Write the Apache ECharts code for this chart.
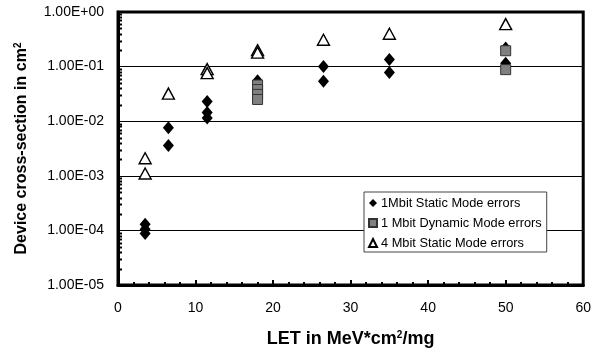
<!DOCTYPE html>
<html>
<head>
<meta charset="utf-8">
<script src="https://cdn.jsdelivr.net/npm/echarts@6/dist/echarts.min.js"></script>
<style>
  html, body { margin: 0; padding: 0; background: #fff; }
  #chart { width: 594px; height: 354px; }
</style>
</head>
<body>
<div id="chart"></div>
<script>
// LET (MeV*cm2/mg) and device cross-section (cm2) measurements
const static1M = [
  [3.5, 1.3e-4], [3.5, 1.05e-4], [3.5, 8.8e-5],
  [6.5, 7.6e-3], [6.5, 3.6e-3],
  [11.5, 2.3e-2], [11.5, 1.45e-2], [11.5, 1.15e-2],
  [18, 5.5e-2],
  [26.5, 1.0e-1], [26.5, 5.4e-2],
  [35, 1.35e-1], [35, 7.8e-2],
  [50, 2.2e-1], [50, 1.15e-1]
];
const dynamic1M = [
  [18, 4.6e-2], [18, 3.8e-2], [18, 3.1e-2], [18, 2.5e-2],
  [50, 1.95e-1], [50, 8.8e-2]
];
const static4M = [
  [3.5, 2.1e-3], [3.5, 1.1e-3],
  [6.5, 3.2e-2],
  [11.5, 9.0e-2], [11.5, 7.6e-2],
  [18, 2.0e-1], [18, 1.8e-1],
  [26.5, 3.1e-1],
  [35, 4.0e-1],
  [50, 6.0e-1]
];
const seriesNames = ['1Mbit Static Mode errors', '1 Mbit Dynamic Mode errors', '4 Mbit Static Mode errors'];
const xTicks = { min: 0, max: 60, interval: 10 };
const yRange = { min: 1e-5, max: 1 };

function sciLabel(v) {
  const e = Math.round(Math.log10(v));
  return '1.00E' + (e < 0 ? '-' : '+') + String(Math.abs(e)).padStart(2, '0');
}

const font = 'Liberation Sans, Arial, sans-serif';
const supStyle = { fontSize: 10, fontWeight: 'bold', verticalAlign: 'top', padding: [0, 0, 7, 0] };
const chart = echarts.init(document.getElementById('chart'), null, { renderer: 'canvas' });

chart.setOption({
  animation: false,
  backgroundColor: '#fff',
  textStyle: { fontFamily: font },
  grid: {
    left: 118, right: 9, top: 12, bottom: 69,
    show: true, borderColor: '#000', borderWidth: 3, backgroundColor: 'transparent'
  },
  xAxis: {
    type: 'value',
    min: xTicks.min, max: xTicks.max, interval: xTicks.interval,
    name: 'LET in MeV*cm{sup|2}/mg',
    nameLocation: 'middle', nameGap: 45,
    nameTextStyle: {
      fontFamily: font, fontSize: 18, fontWeight: 'bold', color: '#000',
      rich: { sup: supStyle }
    },
    axisLine: { show: true, lineStyle: { color: '#000', width: 3 } },
    axisTick: { show: true, inside: true, length: 5, lineStyle: { color: '#000', width: 2 } },
    minorTick: { show: true, splitNumber: 5, length: 3, lineStyle: { color: '#000', width: 2 } },
    axisLabel: { fontFamily: font, fontSize: 14, color: '#000', margin: 16 },
    splitLine: { show: false }
  },
  yAxis: {
    type: 'log', logBase: 10,
    min: yRange.min, max: yRange.max,
    name: 'Device cross-section in cm{sup|2}',
    nameLocation: 'middle', nameGap: 88, nameRotate: 90,
    nameTextStyle: {
      fontFamily: font, fontSize: 16, fontWeight: 'bold', color: '#000',
      rich: { sup: supStyle }
    },
    axisLine: { show: true, lineStyle: { color: '#000', width: 3 } },
    axisTick: { show: false },
    axisLabel: { fontFamily: font, fontSize: 14, color: '#000', margin: 14, formatter: sciLabel },
    splitLine: { show: true, lineStyle: { color: '#000', width: 1 } }
  },
  legend: {
    orient: 'vertical',
    left: 364, top: 192,
    backgroundColor: '#fff',
    borderColor: '#444', borderWidth: 1,
    padding: [3, 5, 1, 4],
    itemGap: 4, itemWidth: 8, itemHeight: 8,
    textStyle: { fontFamily: font, fontSize: 12.8, color: '#000', lineHeight: 16, padding: [0, 0, 0, -1] },
    data: seriesNames
  },
  series: [
    {
      name: seriesNames[0], type: 'scatter', data: static1M,
      symbol: 'diamond', symbolSize: [11, 13],
      itemStyle: { color: '#000', opacity: 1 }, z: 3
    },
    {
      name: seriesNames[1], type: 'scatter', data: dynamic1M,
      symbol: 'rect', symbolSize: [10, 10],
      itemStyle: { color: '#808080', borderColor: '#333', borderWidth: 1, opacity: 1 }, z: 4
    },
    {
      name: seriesNames[2], type: 'scatter', data: static4M,
      symbol: 'triangle', symbolSize: [12, 11],
      itemStyle: { color: '#fff', borderColor: '#000', borderWidth: 1.4, opacity: 1 }, z: 5
    }
  ]
});

// Logarithmic minor ticks along the inner side of the y axis (2..9 within each decade)
const minor = [];
const x0 = chart.convertToPixel({ gridIndex: 0 }, [0, 1])[0];
for (let e = -5; e < 0; e++) {
  for (let k = 2; k <= 9; k++) {
    const y = chart.convertToPixel({ gridIndex: 0 }, [0, k * Math.pow(10, e)])[1];
    minor.push({
      type: 'line', silent: true, z: 10,
      shape: { x1: x0, y1: Math.round(y) + 0.5, x2: x0 + 4, y2: Math.round(y) + 0.5 },
      style: { stroke: '#000', lineWidth: 2 }
    });
  }
}
chart.setOption({ graphic: minor });
</script>
</body>
</html>
